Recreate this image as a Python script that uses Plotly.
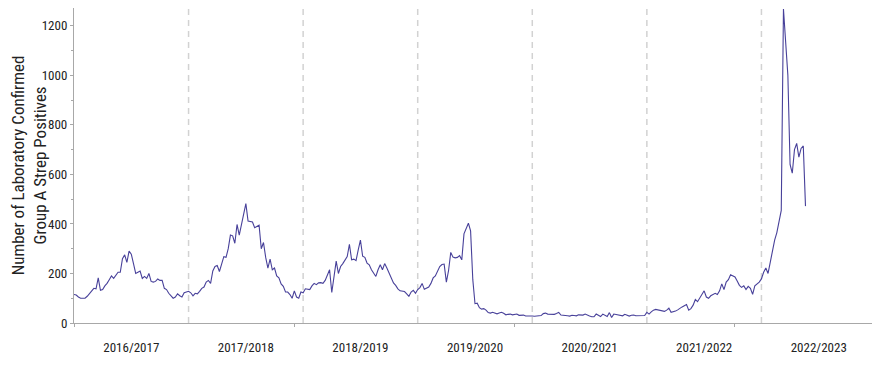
import plotly.graph_objects as go

# Season labels
seasons = ["2016/2017", "2017/2018", "2018/2019", "2019/2020",
           "2020/2021", "2021/2022", "2022/2023"]
WEEKS = 52  # weeks per season (index units on the x axis)

# Weekly counts of laboratory confirmed Group A Strep positives, per season
s2016 = [115, 113, 105, 100, 100, 100, 108, 118, 128, 140, 138, 182, 132, 135, 150, 160,
         175, 190, 180, 195, 205, 205, 260, 275, 245, 290, 278, 240, 200, 205, 210, 180,
         188, 180, 200, 168, 165, 168, 178, 172, 172, 140, 135, 120, 110, 100, 105, 118,
         110, 105, 122, 125]
s2017 = [128, 122, 110, 120, 118, 128, 140, 145, 165, 172, 160, 210, 228, 232, 208, 238,
         268, 265, 300, 355, 352, 322, 398, 355, 400, 440, 482, 412, 410, 408, 385, 390,
         395, 300, 325, 265, 222, 258, 215, 222, 190, 182, 158, 148, 125, 125, 115, 100,
         130, 105, 100, 125]
s2018 = [122, 138, 136, 135, 150, 160, 155, 162, 163, 160, 172, 195, 215, 123, 190, 250,
         200, 228, 240, 255, 268, 318, 255, 258, 252, 295, 335, 270, 265, 242, 235, 215,
         200, 188, 215, 235, 215, 240, 222, 202, 188, 162, 152, 138, 130, 128, 127, 118,
         108, 125, 132, 120]
s2019 = [135, 143, 160, 136, 142, 145, 160, 182, 190, 210, 228, 236, 238, 165, 212, 285,
         266, 263, 265, 272, 255, 360, 385, 403, 372, 175, 78, 80, 62, 56, 58, 52,
         42, 40, 43, 41, 37, 40, 43, 39, 33, 35, 36, 33, 35, 36, 31, 33,
         32, 28, 29, 28]
s2020 = [28, 27, 27, 29, 30, 38, 40, 36, 35, 36, 35, 38, 43, 32, 31, 33,
         29, 28, 31, 30, 29, 33, 31, 32, 36, 31, 28, 25, 25, 36, 30, 26,
         36, 32, 26, 42, 22, 36, 34, 31, 30, 29, 35, 33, 28, 31, 32, 29,
         29, 29, 28, 30]
s2021 = [43, 36, 45, 52, 55, 53, 49, 46, 47, 52, 60, 43, 45, 48, 53, 60,
         65, 70, 75, 52, 58, 72, 95, 86, 102, 113, 130, 105, 100, 110, 115, 120,
         115, 130, 158, 135, 165, 175, 195, 190, 186, 170, 152, 144, 150, 135, 148, 140,
         116, 150, 157, 165]
s2022 = [178, 205, 222, 200, 245, 295, 335, 365, 410, 455, 1268, 1130, 1000, 640, 605, 700,
         725, 670, 705, 715, 472]

season_values = [s2016, s2017, s2018, s2019, s2020, s2021, s2022]

x, y = [], []
for i, vals in enumerate(season_values):
    for w, v in enumerate(vals):
        x.append(i * WEEKS + w)
        y.append(v)

fig = go.Figure()
fig.add_trace(go.Scatter(x=x, y=y, mode="lines",
                         line=dict(color="#48419a", width=1.1),
                         hoverinfo="skip", showlegend=False))

# Dashed season boundaries
for i in range(1, len(seasons) + 1):
    fig.add_shape(type="line", xref="x", yref="paper",
                  x0=i * WEEKS, x1=i * WEEKS, y0=0, y1=1,
                  line=dict(color="#d2d2d2", width=1.5, dash="6px,5px"), layer="below")

FONT = "Roboto Condensed, DejaVu Sans Condensed, Liberation Sans Narrow, Liberation Sans, sans-serif"
n_total = len(seasons) * WEEKS

fig.update_layout(
    width=872, height=362,
    margin=dict(l=66, r=4, t=0, b=47),
    paper_bgcolor="white", plot_bgcolor="white",
    font=dict(family=FONT, color="#222222", size=13),
    xaxis=dict(
        range=[0, n_total], automargin=False,
        tickvals=[i * WEEKS + WEEKS / 2 for i in range(len(seasons))],
        ticktext=seasons,
        ticks="", showgrid=False, zeroline=False,
        showline=True, linecolor="#a8a8a8", linewidth=1.2,
        tickfont=dict(family=FONT, size=13, color="#222222"),
        ticklabelstandoff=12,
        minor=dict(tick0=0, dtick=100, ticks="outside", ticklen=3,
                   tickcolor="#a8a8a8", showgrid=False),
    ),
    yaxis=dict(
        range=[0, 1272], automargin=False,
        tickvals=[0, 200, 400, 600, 800, 1000, 1200],
        ticks="outside", ticklen=3, tickcolor="#a8a8a8",
        showgrid=False, zeroline=False,
        showline=True, linecolor="#a8a8a8", linewidth=1.2,
        tickfont=dict(family=FONT, size=13, color="#222222"),
        minor=dict(dtick=100, ticks="outside", ticklen=2,
                   tickcolor="#a8a8a8", showgrid=False),
        title=dict(text="Number of Laboratory Confirmed<br>Group A Strep Positives",
                   font=dict(family=FONT, size=17, color="#222222"), standoff=7),
    ),
)

fig.write_html("out.html")
